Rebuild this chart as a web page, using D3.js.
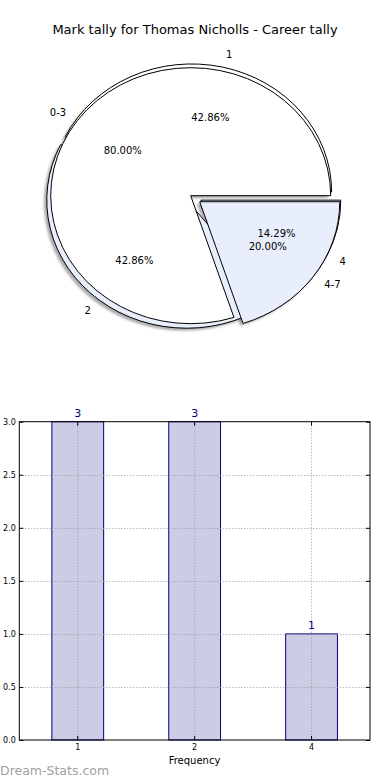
<!DOCTYPE html>
<html>
<head>
<meta charset="utf-8">
<script src="https://cdn.jsdelivr.net/npm/d3@7"></script>
<style>
body { margin: 0; background: #fff; }
text { font-family: "DejaVu Sans", sans-serif; }
</style>
</head>
<body>
<div id="chart"></div>
<script>
const width = 390;
const height = 780;

const title = "Mark tally for Thomas Nicholls - Career tally";

// mark tally (outer pie + bars)
const markLabels = ["1", "2", "4"];
const markCounts = [3, 3, 1];

// grouped tally (second pie)
const rangeLabels = ["0-3", "4-7"];
const rangeCounts = [4, 1];

const yTicks = [0, 0.5, 1, 1.5, 2, 2.5, 3];

// styles for the two pies
const markColors = ["#ffffff", "#e8eefb", "#e8eefb"];
const markExplode = [0.03, 0.045, 0.08];
const rangeColors = ["#ffffff", "#e8eefb"];
const rangeExplode = [0, 0.08];

const svg = d3.select("#chart").append("svg")
   .attr("width", width)
   .attr("height", height);

const defs = svg.append("defs");
defs.append("filter").attr("id", "blur")
   .append("feGaussianBlur").attr("stdDeviation", 0.9);

svg.append("text")
   .attr("x", 195)
   .attr("y", 34)
   .attr("text-anchor", "middle")
   .style("font-size", "13px")
   .text(title);

// ---- pies ----
const cx = 190.7, cy = 195.7, rx = 140, ry = 128;

const pieGen = d3.pie().sort(null)
   .startAngle(Math.PI / 2)
   .endAngle(Math.PI / 2 - 2 * Math.PI);

const arc = d3.arc().innerRadius(0).outerRadius(rx);

function buildSlices(labels, values, colors, explode) {
   const total = d3.sum(values);
   return pieGen(values).map((d, i) => {
      const a = (d.startAngle + d.endAngle) / 2;
      const ux = Math.sin(a), uy = -Math.cos(a);
      return {
         arc: d,
         label: labels[i],
         pct: values[i] / total * 100,
         color: colors[i],
         ux: ux, uy: uy,
         ox: explode[i] * rx * ux,
         oy: explode[i] * ry * uy
      };
   });
}

const pieA = buildSlices(markLabels, markCounts, markColors, markExplode);
const pieB = buildSlices(rangeLabels, rangeCounts, rangeColors, rangeExplode);
const allSlices = pieA.concat(pieB);

const shadowLayer = svg.append("g").attr("filter", "url(#blur)");
const wedgeLayer = svg.append("g");
const textLayer = svg.append("g");

// shadows sit under every wedge
shadowLayer.selectAll("path")
   .data(allSlices)
   .enter()
   .append("path")
   .attr("transform", d => `translate(${cx + d.ox - 0.02 * rx},${cy + d.oy + 0.02 * ry}) scale(1,${ry / rx})`)
   .attr("d", d => arc(d.arc))
   .style("fill", d => {
      const c = d3.rgb(d.color);
      return d3.rgb(c.r * 0.3, c.g * 0.3, c.b * 0.3);
   })
   .style("opacity", 0.45);

wedgeLayer.selectAll("path")
   .data(allSlices)
   .enter()
   .append("path")
   .attr("transform", d => `translate(${cx + d.ox},${cy + d.oy}) scale(1,${ry / rx})`)
   .attr("d", d => arc(d.arc))
   .style("fill", d => d.color)
   .style("stroke", "#000")
   .style("stroke-width", 1)
   .attr("vector-effect", "non-scaling-stroke")
   .style("stroke-linejoin", "miter");

allSlices.forEach(d => {
   const lx = cx + d.ox + 1.1 * rx * d.ux;
   const ly = cy + d.oy + 1.1 * ry * d.uy;
   textLayer.append("text")
      .attr("x", lx)
      .attr("y", ly)
      .attr("dy", "0.35em")
      .attr("text-anchor", d.ux > 0 ? "start" : "end")
      .style("font-size", "10px")
      .text(d.label);

   textLayer.append("text")
      .attr("x", cx + d.ox + 0.6 * rx * d.ux)
      .attr("y", cy + d.oy + 0.6 * ry * d.uy)
      .attr("dy", "0.35em")
      .attr("text-anchor", "middle")
      .style("font-size", "10px")
      .text(d3.format(".2f")(d.pct) + "%");
});

// ---- bar chart ----
const plot = { left: 19.3, right: 370, top: 421.7, bottom: 740 };

const x = d3.scaleBand()
   .domain(markLabels)
   .range([plot.left, plot.right])
   .paddingInner(0.557)
   .paddingOuter(0.2785);

const y = d3.scaleLinear()
   .domain([0, 3])
   .range([plot.bottom, plot.top]);

const bars = svg.append("g");
bars.selectAll("rect")
   .data(markLabels)
   .enter()
   .append("rect")
   .attr("x", d => x(d))
   .attr("y", (d, i) => y(markCounts[i]))
   .attr("width", x.bandwidth())
   .attr("height", (d, i) => y(0) - y(markCounts[i]))
   .style("fill", "#ccccE5")
   .style("stroke", "#000080")
   .style("stroke-width", 1);

// grid on top of bars
const grid = svg.append("g")
   .style("stroke", "#999")
   .style("stroke-width", 1)
   .style("stroke-dasharray", "1,2");
grid.selectAll("line.h")
   .data(yTicks.slice(1, -1))
   .enter()
   .append("line")
   .attr("x1", plot.left).attr("x2", plot.right)
   .attr("y1", d => Math.round(y(d)) + 0.5).attr("y2", d => Math.round(y(d)) + 0.5);
grid.selectAll("line.v")
   .data(markLabels)
   .enter()
   .append("line")
   .attr("x1", d => x(d) + x.bandwidth() / 2).attr("x2", d => x(d) + x.bandwidth() / 2)
   .attr("y1", plot.top).attr("y2", plot.bottom);

function styleAxis(g) {
   g.select(".domain").remove();
   g.selectAll("text")
      .style("font-family", "DejaVu Sans, sans-serif")
      .style("font-size", "8px")
      .attr("fill", "#000");
}

svg.append("g")
   .attr("transform", `translate(${plot.left},0)`)
   .call(d3.axisLeft(y).tickValues(yTicks).tickSize(-4).tickPadding(3.5).tickFormat(d3.format(".1f")))
   .call(styleAxis);

svg.append("g")
   .attr("transform", `translate(${plot.right},0)`)
   .call(d3.axisRight(y).tickValues(yTicks).tickSize(-4).tickFormat(""))
   .call(styleAxis);

svg.append("g")
   .attr("transform", `translate(0,${plot.bottom})`)
   .call(d3.axisBottom(x).tickSize(-4).tickPadding(4))
   .call(styleAxis);

svg.append("g")
   .attr("transform", `translate(0,${plot.top})`)
   .call(d3.axisTop(x).tickSize(-4).tickFormat(""))
   .call(styleAxis);

svg.append("rect")
   .attr("x", plot.left)
   .attr("y", plot.top)
   .attr("width", plot.right - plot.left)
   .attr("height", plot.bottom - plot.top)
   .style("fill", "none")
   .style("stroke", "#000")
   .style("stroke-width", 1);

// value labels
svg.append("g").selectAll("text")
   .data(markLabels)
   .enter()
   .append("text")
   .attr("x", d => x(d) + x.bandwidth() / 2)
   .attr("y", (d, i) => y(markCounts[i]) - 5)
   .attr("text-anchor", "middle")
   .style("font-size", "11px")
   .style("fill", "#000080")
   .text((d, i) => markCounts[i]);

svg.append("text")
   .attr("x", 194.5)
   .attr("y", 764)
   .attr("text-anchor", "middle")
   .style("font-size", "10px")
   .text("Frequency");

svg.append("text")
   .attr("x", 0)
   .attr("y", 775)
   .style("font-size", "12.5px")
   .style("fill", "#a0a0a0")
   .text("Dream-Stats.com");
</script>
</body>
</html>
